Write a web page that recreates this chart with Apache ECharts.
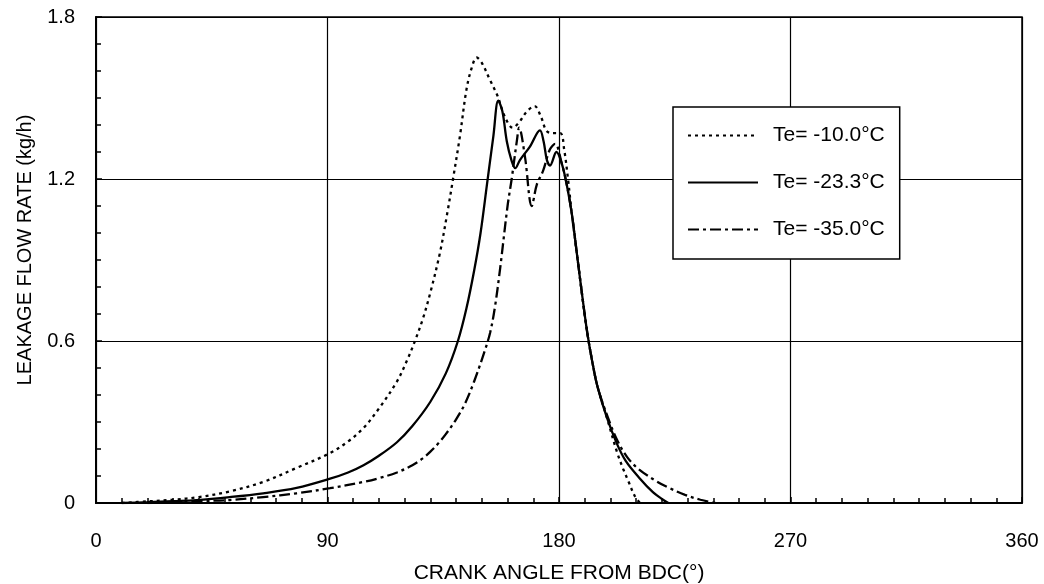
<!DOCTYPE html>
<html>
<head>
<meta charset="utf-8">
<script src="https://cdn.jsdelivr.net/npm/echarts@6/dist/echarts.min.js"></script>
<style>
  html, body { margin: 0; padding: 0; background: #fff; }
  #main { width: 1044px; height: 584px; }
</style>
</head>
<body>
<div id="main"></div>
<script>
// legend names
var seriesNames = ['Te= -10.0\u00b0C', 'Te= -23.3\u00b0C', 'Te= -35.0\u00b0C'];

// crank angle (deg), leakage flow rate (kg/h)
var te10 = [
  [10, 0], [20, 0.006], [30, 0.012], [40, 0.022], [52, 0.043], [65, 0.078],
  [78, 0.13], [91, 0.185], [98, 0.228], [104, 0.278], [110, 0.35], [117, 0.45],
  [121, 0.53], [124, 0.6], [127, 0.68], [130, 0.78], [133.7, 0.926], [136.5, 1.07], [138.8, 1.2],
  [141.5, 1.36], [144, 1.53], [146, 1.61], [148, 1.65], [150, 1.63], [153, 1.57],
  [156, 1.51], [159, 1.43], [162, 1.39], [164.5, 1.41], [167.5, 1.45], [170.5, 1.47],
  [173, 1.43], [175, 1.38], [177, 1.37], [180.5, 1.37], [182, 1.31], [183.5, 1.2],
  [185, 1.07], [187, 0.92], [189, 0.77], [191, 0.63], [193, 0.52], [195, 0.43],
  [198.5, 0.32], [202.5, 0.19], [205, 0.125], [207, 0.08], [209.5, 0.025], [211.5, 0]
];
var te23 = [
  [10, 0], [20, 0.003], [30, 0.007], [39, 0.011], [52, 0.022], [65, 0.036],
  [78, 0.056], [91, 0.09], [98, 0.113], [104, 0.14], [110, 0.175], [117, 0.225],
  [123, 0.285], [130, 0.375], [136, 0.48], [140.7, 0.6], [144, 0.72], [147, 0.86],
  [149.5, 1.0], [152, 1.18], [154.5, 1.36], [156.4, 1.49], [158, 1.45], [159.7, 1.34],
  [161.5, 1.27], [163, 1.24], [164.8, 1.27], [168.7, 1.32], [172.6, 1.38], [174, 1.34],
  [175.3, 1.27], [176.5, 1.25], [179, 1.3], [181, 1.26], [183, 1.18], [185, 1.07],
  [187, 0.92], [189, 0.77], [191, 0.63], [193, 0.52], [195, 0.43], [198.5, 0.32],
  [202.5, 0.22], [206, 0.155], [211.5, 0.09], [216.5, 0.04], [220, 0.015], [222.5, 0]
];
var te35 = [
  [20, 0], [30, 0.004], [40, 0.007], [52, 0.011], [65, 0.022], [78, 0.036],
  [91, 0.055], [104, 0.078], [110, 0.092], [117, 0.113], [123, 0.14], [127, 0.165],
  [130, 0.19], [133, 0.22], [136, 0.255], [140, 0.31], [143.3, 0.365], [147, 0.45],
  [151, 0.56], [153.2, 0.63], [155, 0.72], [157, 0.86], [160, 1.1], [161.6, 1.2],
  [163.6, 1.34], [164.5, 1.39], [166.8, 1.28], [169.4, 1.1], [171.4, 1.18], [173.8, 1.23],
  [176.5, 1.31], [178.5, 1.33], [181, 1.26], [183, 1.18], [185, 1.07], [187, 0.92],
  [189, 0.77], [191, 0.63], [193, 0.52], [195, 0.43], [198.5, 0.33], [202.5, 0.235],
  [206.5, 0.17], [211, 0.125], [218, 0.08], [223, 0.055], [229, 0.03], [235, 0.012], [241, 0]
];

// axis ticks
var xTicks = [0, 90, 180, 270, 360];
var yTicks = [0, 0.6, 1.2, 1.8];

var font = '"Liberation Sans", Arial, sans-serif';

var chart = echarts.init(document.getElementById('main'));

function mkSeries(name, data, dash) {
  return {
    name: name,
    type: 'line',
    data: data,
    smooth: 0.35,
    symbol: 'none',
    lineStyle: { color: '#000', width: 2.3, type: dash },
    itemStyle: { color: '#000' }
  };
}

chart.setOption({
  backgroundColor: '#fff',
  animation: false,
  grid: {
    left: 96, right: 22, top: 17, bottom: 81,
    outerBoundsMode: 'none',
    containLabel: false,
    show: true, borderColor: '#000', borderWidth: 1.5
  },
  legend: {
    orient: 'vertical',
    left: 673, top: 107,
    data: seriesNames,
    backgroundColor: '#fff',
    borderColor: '#000', borderWidth: 1.5, borderRadius: 0,
    padding: [18, 15, 19, 14],
    itemWidth: 70, itemHeight: 14, itemGap: 26,
    itemStyle: { opacity: 0 },
    textStyle: { color: '#000', fontSize: 21, fontFamily: font, padding: [0, 0, 0, 10] }
  },
  xAxis: {
    type: 'value',
    min: xTicks[0], max: xTicks[xTicks.length - 1], interval: 90,
    name: 'CRANK ANGLE FROM BDC(\u00b0)',
    nameLocation: 'middle', nameGap: 60,
    nameTextStyle: { color: '#000', fontSize: 21, fontFamily: font },
    axisLine: { lineStyle: { color: '#000', width: 2 } },
    axisTick: { show: true, inside: true, length: 6, lineStyle: { color: '#000', width: 1.5 } },
    minorTick: { show: true, splitNumber: 9, length: 5, lineStyle: { color: '#000', width: 1.5 } },
    axisLabel: { color: '#000', fontSize: 20, fontFamily: font, margin: 28 },
    splitLine: { show: true, lineStyle: { color: '#000', width: 1.2 } }
  },
  yAxis: {
    type: 'value',
    min: yTicks[0], max: yTicks[yTicks.length - 1], interval: 0.6,
    name: 'LEAKAGE FLOW RATE (kg/h)',
    nameLocation: 'middle', nameGap: 61,
    nameTextStyle: { color: '#000', fontSize: 20, fontFamily: font, padding: [0, 0, 0, 20] },
    axisLine: { show: true, lineStyle: { color: '#000', width: 2 } },
    axisTick: { show: true, inside: true, length: 6, lineStyle: { color: '#000', width: 1.5 } },
    minorTick: { show: true, splitNumber: 6, length: 5, lineStyle: { color: '#000', width: 1.5 } },
    axisLabel: {
      color: '#000', fontSize: 20, fontFamily: font, margin: 21,
      formatter: function (v) { return v === 0 ? '0' : v.toFixed(1); }
    },
    splitLine: { show: true, lineStyle: { color: '#000', width: 1.2 } }
  },
  series: [
    mkSeries(seriesNames[0], te10, [3, 4]),
    mkSeries(seriesNames[1], te23, 'solid'),
    mkSeries(seriesNames[2], te35, [11, 4, 3, 4])
  ]
});
</script>
</body>
</html>
